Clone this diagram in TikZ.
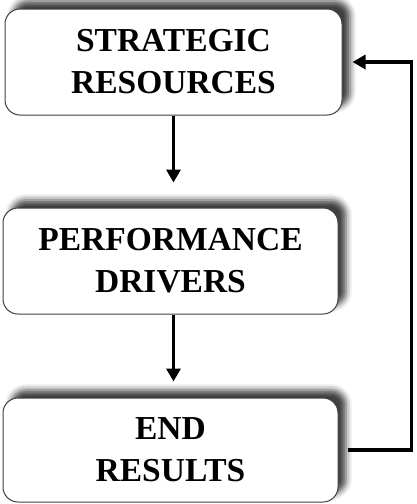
\documentclass[tikz,border=0pt]{standalone}
\usepackage{fontspec}
\setmainfont{Liberation Serif}
\usetikzlibrary{arrows.meta,shadows.blur}
\begin{document}
\begin{tikzpicture}[x=1pt,y=1pt,
  boxstyle/.style={draw=black!75, line width=1pt, fill=white, rounded corners=15pt,
    align=center, inner sep=0pt,
    font=\bfseries\fontsize{33.5}{42}\selectfont,
    blur shadow={shadow xshift=8pt, shadow yshift=8pt, shadow blur radius=6pt, shadow opacity=75}},
  arr/.style={line width=3.3pt, -{Triangle[width=14pt,length=13pt]}}]
\useasboundingbox (0,0) rectangle (416,-504);
\node[boxstyle, minimum width=337pt, minimum height=106pt] (b1) at (173.5,-62) {STRATEGIC\\RESOURCES};
\node[boxstyle, minimum width=335pt, minimum height=106pt] (b2) at (170.5,-261) {PERFORMANCE\\DRIVERS};
\node[boxstyle, minimum width=335pt, minimum height=104pt] (b3) at (170.5,-450) {END\\RESULTS};
\draw[arr] (b1.south) -- ([yshift=25pt]b2.north -| b1.south);
\draw[arr] (b2.south -| b1.south) -- ([yshift=16pt]b3.north -| b1.south);
\draw[arr] ([xshift=9pt]b3.east) -- ++(64pt,0) |- ([xshift=10pt]b1.east);
\end{tikzpicture}
\end{document}
